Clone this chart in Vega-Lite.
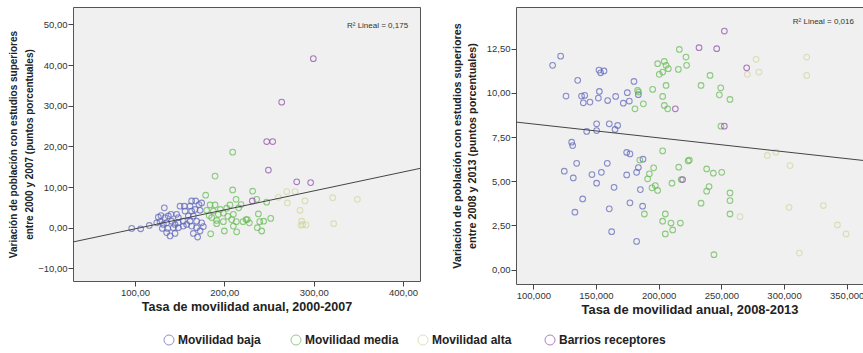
{
 "$schema": "https://vega.github.io/schema/vega-lite/v6.json",
 "padding": {"left": 8, "top": 6, "right": 0, "bottom": 0},
 "background": "white",
 "datasets": {
  "p1": [
   {"g":"Movilidad baja","x":96.3,"y":-0.16},{"g":"Movilidad baja","x":106.3,"y":-0.25},{"g":"Movilidad baja","x":116,"y":0.57},{"g":"Movilidad baja","x":132.8,"y":4.9},{"g":"Movilidad baja","x":126.1,"y":2.6},{"g":"Movilidad baja","x":129.1,"y":3.0},{"g":"Movilidad baja","x":133.6,"y":2.5},{"g":"Movilidad baja","x":137.3,"y":2.9},{"g":"Movilidad baja","x":140.3,"y":3.3},{"g":"Movilidad baja","x":146.6,"y":3.3},{"g":"Movilidad baja","x":148.5,"y":2.5},{"g":"Movilidad baja","x":124.3,"y":1.2},{"g":"Movilidad baja","x":128,"y":1.5},{"g":"Movilidad baja","x":131.7,"y":0.8},{"g":"Movilidad baja","x":135.4,"y":1.2},{"g":"Movilidad baja","x":141,"y":1.6},{"g":"Movilidad baja","x":144.8,"y":0.8},{"g":"Movilidad baja","x":148.5,"y":1.2},{"g":"Movilidad baja","x":130.6,"y":-0.16},{"g":"Movilidad baja","x":136.6,"y":-0.16},{"g":"Movilidad baja","x":142.9,"y":0},{"g":"Movilidad baja","x":148.5,"y":0},{"g":"Movilidad baja","x":154.1,"y":0.4},{"g":"Movilidad baja","x":135.4,"y":-1.2},{"g":"Movilidad baja","x":144.8,"y":-1.4},{"g":"Movilidad baja","x":139.2,"y":-2.0},{"g":"Movilidad baja","x":150.4,"y":5.3},{"g":"Movilidad baja","x":155.2,"y":5.3},{"g":"Movilidad baja","x":161.6,"y":5.3},{"g":"Movilidad baja","x":163.4,"y":6.6},{"g":"Movilidad baja","x":167.9,"y":6.6},{"g":"Movilidad baja","x":171.6,"y":5.7},{"g":"Movilidad baja","x":167.2,"y":4.5},{"g":"Movilidad baja","x":163.4,"y":4.1},{"g":"Movilidad baja","x":156,"y":4.1},{"g":"Movilidad baja","x":159.7,"y":2.9},{"g":"Movilidad baja","x":165.3,"y":2.9},{"g":"Movilidad baja","x":169,"y":1.6},{"g":"Movilidad baja","x":161.6,"y":1.6},{"g":"Movilidad baja","x":157.8,"y":0.8},{"g":"Movilidad baja","x":154.1,"y":1.6},{"g":"Movilidad baja","x":163.4,"y":0.4},{"g":"Movilidad baja","x":169,"y":0},{"g":"Movilidad baja","x":165.3,"y":-1.4},{"g":"Movilidad baja","x":170.1,"y":-2.3},{"g":"Movilidad baja","x":172.8,"y":-0.8},{"g":"Movilidad baja","x":174.6,"y":1.2},{"g":"Movilidad baja","x":176.5,"y":0.3},{"g":"Movilidad baja","x":174.6,"y":6.1},{"g":"Movilidad baja","x":172.8,"y":4.3},
   {"g":"Movilidad media","x":209.3,"y":18.6},{"g":"Movilidad media","x":189.6,"y":12.7},{"g":"Movilidad media","x":209.3,"y":9.3},{"g":"Movilidad media","x":231.7,"y":9.0},{"g":"Movilidad media","x":179.1,"y":8.0},{"g":"Movilidad media","x":213.1,"y":7.0},{"g":"Movilidad media","x":236.2,"y":7.0},{"g":"Movilidad media","x":247.4,"y":6.3},{"g":"Movilidad media","x":184,"y":5.6},{"g":"Movilidad media","x":189.6,"y":5.6},{"g":"Movilidad media","x":206.3,"y":5.6},{"g":"Movilidad media","x":218.7,"y":5.7},{"g":"Movilidad media","x":202.6,"y":4.8},{"g":"Movilidad media","x":180.2,"y":4.3},{"g":"Movilidad media","x":187.7,"y":4.1},{"g":"Movilidad media","x":193.3,"y":3.3},{"g":"Movilidad media","x":198.9,"y":3.6},{"g":"Movilidad media","x":210.1,"y":3.3},{"g":"Movilidad media","x":238.1,"y":3.4},{"g":"Movilidad media","x":185.8,"y":2.5},{"g":"Movilidad media","x":191.4,"y":1.8},{"g":"Movilidad media","x":208.2,"y":2.0},{"g":"Movilidad media","x":224.3,"y":2.0},{"g":"Movilidad media","x":225.7,"y":2.0},{"g":"Movilidad media","x":251.9,"y":2.3},{"g":"Movilidad media","x":198.9,"y":1.5},{"g":"Movilidad media","x":213.4,"y":1.5},{"g":"Movilidad media","x":220.9,"y":1.5},{"g":"Movilidad media","x":239.6,"y":1.5},{"g":"Movilidad media","x":210.1,"y":0.4},{"g":"Movilidad media","x":236.9,"y":0},{"g":"Movilidad media","x":213.8,"y":-1.0},{"g":"Movilidad media","x":200,"y":-0.8},{"g":"Movilidad media","x":241.8,"y":-0.8},{"g":"Movilidad media","x":184.7,"y":-1.5},{"g":"Movilidad media","x":191.4,"y":1.0},{"g":"Movilidad media","x":195.5,"y":4.5},{"g":"Movilidad media","x":183,"y":3.0},{"g":"Movilidad media","x":204,"y":2.8},{"g":"Movilidad media","x":216,"y":4.9},{"g":"Movilidad media","x":228,"y":1.2},{"g":"Movilidad media","x":244,"y":1.6},
   {"g":"Movilidad alta","x":269.8,"y":8.9},{"g":"Movilidad alta","x":279.1,"y":8.9},{"g":"Movilidad alta","x":260.4,"y":7.5},{"g":"Movilidad alta","x":270.5,"y":6.1},{"g":"Movilidad alta","x":290.3,"y":6.6},{"g":"Movilidad alta","x":321.3,"y":7.4},{"g":"Movilidad alta","x":348.9,"y":7.0},{"g":"Movilidad alta","x":284.7,"y":4.3},{"g":"Movilidad alta","x":286.6,"y":1.6},{"g":"Movilidad alta","x":287.7,"y":0.8},{"g":"Movilidad alta","x":291.4,"y":0.7},{"g":"Movilidad alta","x":285.8,"y":0.6},{"g":"Movilidad alta","x":322.4,"y":1.0},
   {"g":"Barrios receptores","x":299.6,"y":41.6},{"g":"Barrios receptores","x":264.2,"y":30.9},{"g":"Barrios receptores","x":247.4,"y":21.2},{"g":"Barrios receptores","x":254.1,"y":21.2},{"g":"Barrios receptores","x":249.3,"y":14.2},{"g":"Barrios receptores","x":281,"y":11.3},{"g":"Barrios receptores","x":296.6,"y":11.1},{"g":"Barrios receptores","x":231.3,"y":6.6}
  ],
  "p2": [
   {"g":"Movilidad baja","x":115.4,"y":11.56},{"g":"Movilidad baja","x":121.8,"y":12.08},{"g":"Movilidad baja","x":126.1,"y":9.82},{"g":"Movilidad baja","x":135.4,"y":10.71},{"g":"Movilidad baja","x":138.5,"y":9.82},{"g":"Movilidad baja","x":141,"y":9.86},{"g":"Movilidad baja","x":139.9,"y":9.44},{"g":"Movilidad baja","x":145.2,"y":9.48},{"g":"Movilidad baja","x":152.4,"y":11.29},{"g":"Movilidad baja","x":153.7,"y":11.14},{"g":"Movilidad baja","x":156.4,"y":11.24},{"g":"Movilidad baja","x":152.7,"y":10.08},{"g":"Movilidad baja","x":151.9,"y":9.71},{"g":"Movilidad baja","x":159.3,"y":9.57},{"g":"Movilidad baja","x":165.7,"y":9.8},{"g":"Movilidad baja","x":171.8,"y":9.42},{"g":"Movilidad baja","x":175,"y":10.01},{"g":"Movilidad baja","x":176.6,"y":9.54},{"g":"Movilidad baja","x":180.3,"y":10.65},{"g":"Movilidad baja","x":183.8,"y":9.9},{"g":"Movilidad baja","x":150.5,"y":8.25},{"g":"Movilidad baja","x":160.6,"y":8.25},{"g":"Movilidad baja","x":167.3,"y":8.16},{"g":"Movilidad baja","x":165.2,"y":7.93},{"g":"Movilidad baja","x":150.5,"y":7.87},{"g":"Movilidad baja","x":142.6,"y":7.82},{"g":"Movilidad baja","x":130.6,"y":7.21},{"g":"Movilidad baja","x":131.4,"y":7.02},{"g":"Movilidad baja","x":134.6,"y":6.02},{"g":"Movilidad baja","x":124.7,"y":5.57},{"g":"Movilidad baja","x":131.9,"y":5.19},{"g":"Movilidad baja","x":146.8,"y":5.38},{"g":"Movilidad baja","x":154.3,"y":5.51},{"g":"Movilidad baja","x":150.5,"y":4.89},{"g":"Movilidad baja","x":159,"y":6.02},{"g":"Movilidad baja","x":164.4,"y":4.66},{"g":"Movilidad baja","x":139.4,"y":4.0},{"g":"Movilidad baja","x":133.2,"y":3.25},{"g":"Movilidad baja","x":160.6,"y":3.44},{"g":"Movilidad baja","x":162.5,"y":2.15},{"g":"Movilidad baja","x":174.5,"y":6.63},{"g":"Movilidad baja","x":177.1,"y":6.55},{"g":"Movilidad baja","x":174.5,"y":5.36},{"g":"Movilidad baja","x":182.4,"y":5.51},{"g":"Movilidad baja","x":183.8,"y":5.78},{"g":"Movilidad baja","x":185.4,"y":4.53},{"g":"Movilidad baja","x":187.2,"y":3.59},{"g":"Movilidad baja","x":177.1,"y":3.78},{"g":"Movilidad baja","x":182.4,"y":1.6},{"g":"Movilidad baja","x":187.5,"y":6.25},
   {"g":"Movilidad media","x":216.5,"y":12.46},{"g":"Movilidad media","x":221.8,"y":12.03},{"g":"Movilidad media","x":222.3,"y":11.56},{"g":"Movilidad media","x":215.7,"y":11.33},{"g":"Movilidad media","x":199.2,"y":11.65},{"g":"Movilidad media","x":204.5,"y":11.78},{"g":"Movilidad media","x":205.9,"y":11.56},{"g":"Movilidad media","x":207.7,"y":11.37},{"g":"Movilidad media","x":203.2,"y":11.18},{"g":"Movilidad media","x":200.5,"y":11.05},{"g":"Movilidad media","x":241,"y":10.99},{"g":"Movilidad media","x":195.2,"y":10.2},{"g":"Movilidad media","x":205.9,"y":10.42},{"g":"Movilidad media","x":233.8,"y":10.42},{"g":"Movilidad media","x":249.5,"y":10.29},{"g":"Movilidad media","x":203.2,"y":9.8},{"g":"Movilidad media","x":248.4,"y":9.89},{"g":"Movilidad media","x":256.9,"y":9.63},{"g":"Movilidad media","x":183.2,"y":10.14},{"g":"Movilidad media","x":184,"y":10.05},{"g":"Movilidad media","x":187.8,"y":9.38},{"g":"Movilidad media","x":181.1,"y":9.1},{"g":"Movilidad media","x":204.5,"y":9.29},{"g":"Movilidad media","x":207.2,"y":9.1},{"g":"Movilidad media","x":249.7,"y":8.12},{"g":"Movilidad media","x":203.2,"y":6.72},{"g":"Movilidad media","x":185,"y":6.2},{"g":"Movilidad media","x":223.5,"y":6.15},{"g":"Movilidad media","x":224.5,"y":6.2},{"g":"Movilidad media","x":216,"y":5.8},{"g":"Movilidad media","x":196,"y":5.76},{"g":"Movilidad media","x":192.6,"y":5.42},{"g":"Movilidad media","x":191.2,"y":5.14},{"g":"Movilidad media","x":238.3,"y":5.7},{"g":"Movilidad media","x":243.6,"y":5.46},{"g":"Movilidad media","x":250.3,"y":5.51},{"g":"Movilidad media","x":210.6,"y":4.89},{"g":"Movilidad media","x":194.7,"y":4.63},{"g":"Movilidad media","x":197.3,"y":4.76},{"g":"Movilidad media","x":199.2,"y":4.48},{"g":"Movilidad media","x":240.2,"y":4.7},{"g":"Movilidad media","x":238.3,"y":4.44},{"g":"Movilidad media","x":256.9,"y":4.34},{"g":"Movilidad media","x":256.9,"y":3.91},{"g":"Movilidad media","x":233.8,"y":3.76},{"g":"Movilidad media","x":188.6,"y":3.15},{"g":"Movilidad media","x":205.3,"y":3.15},{"g":"Movilidad media","x":256.9,"y":3.15},{"g":"Movilidad media","x":203.2,"y":2.74},{"g":"Movilidad media","x":209.8,"y":2.64},{"g":"Movilidad media","x":217.3,"y":2.64},{"g":"Movilidad media","x":211.2,"y":2.25},{"g":"Movilidad media","x":205.3,"y":2.02},{"g":"Movilidad media","x":244.1,"y":0.85},{"g":"Movilidad media","x":218,"y":5.1},
   {"g":"Movilidad alta","x":277.7,"y":11.9},{"g":"Movilidad alta","x":280,"y":11.18},{"g":"Movilidad alta","x":270.7,"y":11.05},{"g":"Movilidad alta","x":318.1,"y":12.03},{"g":"Movilidad alta","x":318.1,"y":10.99},{"g":"Movilidad alta","x":286.7,"y":6.46},{"g":"Movilidad alta","x":293.6,"y":6.65},{"g":"Movilidad alta","x":304.8,"y":5.89},{"g":"Movilidad alta","x":264.9,"y":3.0},{"g":"Movilidad alta","x":304,"y":3.53},{"g":"Movilidad alta","x":331.4,"y":3.63},{"g":"Movilidad alta","x":342.6,"y":2.53},{"g":"Movilidad alta","x":349.5,"y":2.02},{"g":"Movilidad alta","x":312.2,"y":0.94},
   {"g":"Barrios receptores","x":252.4,"y":13.5},{"g":"Barrios receptores","x":232.2,"y":12.56},{"g":"Barrios receptores","x":246.3,"y":12.5},{"g":"Barrios receptores","x":270.2,"y":11.42},{"g":"Barrios receptores","x":213.3,"y":9.1},{"g":"Barrios receptores","x":252.4,"y":8.12},{"g":"Barrios receptores","x":219.1,"y":5.1}
  ],
  "l1": [{"x":30.6,"y":-3.5},{"x":419,"y":14.6}],
  "l2": [{"x":86.2,"y":8.35},{"x":363,"y":6.18}]
 },
 "spacing": 96,
 "bounds": "flush",
 "hconcat": [
  {
   "width": 347, "height": 274,
   "layer": [
    {
     "data": {"name": "p1"},
     "mark": {"type": "point", "filled": false, "shape": "circle", "size": 32, "strokeWidth": 1.1},
     "encoding": {
      "x": {"field": "x", "type": "quantitative", "scale": {"domain": [30.6, 419], "nice": false, "zero": false},
            "axis": {"values": [100, 200, 300, 400], "format": ".2f", "title": "Tasa de movilidad anual, 2000-2007", "titleFontSize": 12.5, "titlePadding": 4}},
      "y": {"field": "y", "type": "quantitative", "scale": {"domain": [-13.1, 54.3], "nice": false, "zero": false},
            "axis": {"values": [-10, 0, 10, 20, 30, 40, 50], "format": ".2f", "title": ["Variación de población con estudios superiores", "entre 2000 y 2007 (puntos porcentuales)"], "titleFontSize": 10, "titleLineHeight": 16, "titlePadding": 3}},
      "color": {"field": "g", "type": "nominal",
                "scale": {"domain": ["Movilidad baja", "Movilidad media", "Movilidad alta", "Barrios receptores"], "range": ["#5b62b8", "#62b94f", "#d3d6a0", "#8b4aa6"]},
                "legend": {"orient": "none", "legendX": 90, "legendY": 327, "direction": "horizontal", "columns": 4, "title": null, "symbolType": "circle", "symbolSize": 100, "symbolStrokeWidth": 1, "labelFontSize": 12, "labelFontWeight": "bold", "labelColor": "#222", "labelOffset": 3, "columnPadding": 4, "gridAlign": "all"}}
     }
    },
    {
     "data": {"name": "l1"},
     "mark": {"type": "line", "color": "#444", "strokeWidth": 1, "clip": true},
     "encoding": {"x": {"field": "x", "type": "quantitative"}, "y": {"field": "y", "type": "quantitative"}}
    },
    {
     "data": {"values": [{"t": "R² Lineal = 0,175"}]},
     "mark": {"type": "text", "align": "right", "baseline": "middle", "fontSize": 8, "color": "#333"},
     "encoding": {"x": {"datum": 405.7}, "y": {"datum": 49.6}, "text": {"field": "t"}}
    }
   ]
  },
  {
   "width": 347, "height": 277,
   "layer": [
    {
     "data": {"name": "p2"},
     "mark": {"type": "point", "filled": false, "shape": "circle", "size": 32, "strokeWidth": 1.1},
     "encoding": {
      "x": {"field": "x", "type": "quantitative", "scale": {"domain": [86.2, 363], "nice": false, "zero": false},
            "axis": {"values": [100, 150, 200, 250, 300, 350], "format": ".3f", "title": "Tasa de movilidad anual, 2008-2013", "titleFontSize": 12.9, "titlePadding": 4}},
      "y": {"field": "y", "type": "quantitative", "scale": {"domain": [-0.81, 14.86], "nice": false, "zero": false},
            "axis": {"values": [0, 2.5, 5, 7.5, 10, 12.5], "format": ".2f", "title": ["Variación de población con estudios superiores", "entre 2008 y 2013 (puntos porcentuales)"], "titleFontSize": 10.8, "titleLineHeight": 14.5, "titlePadding": 9}},
      "color": {"field": "g", "type": "nominal"}
     }
    },
    {
     "data": {"name": "l2"},
     "mark": {"type": "line", "color": "#444", "strokeWidth": 1, "clip": true},
     "encoding": {"x": {"field": "x", "type": "quantitative"}, "y": {"field": "y", "type": "quantitative"}}
    },
    {
     "data": {"values": [{"t": "R² Lineal = 0,016"}]},
     "mark": {"type": "text", "align": "right", "baseline": "middle", "fontSize": 8, "color": "#333"},
     "encoding": {"x": {"datum": 355.8}, "y": {"datum": 14.03}, "text": {"field": "t"}}
    }
   ]
  }
 ],
 "config": {
  "locale": {"number": {"decimal": ",", "thousands": ".", "grouping": [3], "currency": ["", " €"]}},
  "font": "Liberation Sans",
  "view": {"fill": "#f0f0f0", "stroke": "#555", "strokeWidth": 1},
  "axis": {"domain": false, "grid": false, "tickColor": "#444", "tickSize": 5, "labelColor": "#333", "labelFontSize": 9.5, "labelPadding": 1, "labelFont": "Liberation Sans", "titleFont": "Liberation Sans", "titleColor": "#222", "titleFontWeight": "bold"},
  "legend": {"labelFont": "Liberation Sans"}
 }
}
